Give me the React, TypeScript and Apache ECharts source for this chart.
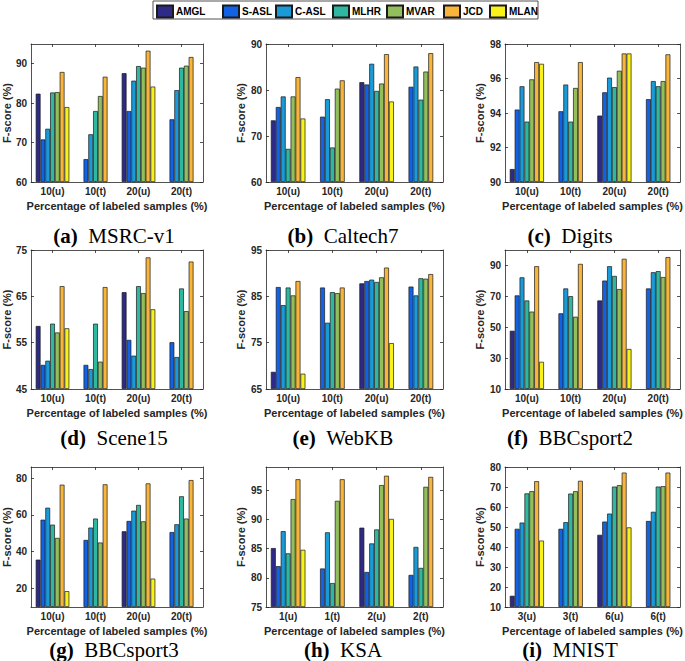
import React, { useEffect, useRef } from 'react';
import * as echarts from 'echarts';

const methods = ['AMGL', 'S-ASL', 'C-ASL', 'MLHR', 'MVAR', 'JCD', 'MLAN'];
const colors = ['#2E2A87', '#1262E6', '#1A9AD7', '#2FB8A0', '#92BF5C', '#F9B43A', '#F8F21A'];

const catsPct = ['10(u)', '10(t)', '20(u)', '20(t)'];
const catsKSA = ['1(u)', '1(t)', '2(u)', '2(t)'];
const catsMNIST = ['3(u)', '3(t)', '6(u)', '6(t)'];

// rows: AMGL, S-ASL, C-ASL, MLHR, MVAR, JCD, MLAN ; columns: the four categories
const msrcValues = [
  [82.4, null, 87.6, null],
  [70.8, 65.8, 78.0, 75.9],
  [73.5, 72.1, 85.7, 83.3],
  [82.7, 78.0, 89.4, 89.0],
  [82.8, 81.8, 89.0, 89.5],
  [87.9, 86.7, 93.3, 91.7],
  [79.0, null, 84.2, null],
];
const caltechValues = [
  [73.4, null, 81.7, null],
  [76.3, 74.2, 81.2, 80.7],
  [78.6, 78.0, 85.7, 85.1],
  [67.2, 67.5, 79.8, 77.9],
  [78.6, 80.3, 81.4, 84.0],
  [82.8, 82.1, 87.8, 88.0],
  [73.8, null, 77.5, null],
];
const digitsValues = [
  [90.75, null, 93.85, null],
  [94.2, 94.1, 95.2, 94.8],
  [95.55, 95.65, 96.05, 95.85],
  [93.5, 93.5, 95.5, 95.55],
  [95.95, 95.45, 96.45, 95.85],
  [96.95, 96.95, 97.45, 97.4],
  [96.85, null, 97.45, null],
];
const sceneValues = [
  [58.6, null, 65.9, null],
  [50.2, 50.2, 55.6, 55.1],
  [51.1, 49.3, 52.2, 51.9],
  [59.1, 59.1, 67.2, 66.7],
  [57.2, 50.9, 65.7, 61.8],
  [67.2, 67.0, 73.4, 72.5],
  [58.1, null, 62.2, null],
];
const webkbValues = [
  [68.7, null, 87.8, null],
  [87.0, 86.9, 88.3, 87.1],
  [83.1, 79.3, 88.6, 85.2],
  [86.9, 85.9, 88.1, 88.9],
  [85.2, 85.7, 89.1, 88.8],
  [88.3, 86.9, 91.2, 89.8],
  [68.3, null, 74.9, null],
];
const bbc2Values = [
  [47.7, null, 67.3, null],
  [70.6, 59.0, 80.2, 75.1],
  [82.3, 75.1, 89.5, 85.6],
  [67.3, 70.1, 83.2, 86.3],
  [60.1, 56.8, 74.7, 82.5],
  [89.5, 91.0, 94.3, 95.4],
  [27.6, null, 35.9, null],
];
const bbc3Values = [
  [35.7, null, 51.1, null],
  [57.4, 46.4, 56.7, 50.7],
  [63.9, 53.1, 62.3, 54.9],
  [54.7, 58.0, 65.4, 70.1],
  [47.5, 45.0, 56.5, 58.0],
  [76.4, 76.6, 77.1, 78.9],
  [18.6, null, 25.4, null],
];
const ksaValues = [
  [85.1, null, 88.6, null],
  [82.0, 81.6, 81.0, 80.5],
  [88.0, 87.8, 85.9, 85.3],
  [84.2, 79.1, 88.3, 81.7],
  [93.5, 93.2, 95.9, 95.6],
  [96.9, 96.9, 97.5, 97.3],
  [84.8, null, 90.1, null],
];
const mnistValues = [
  [15.6, null, 46.1, null],
  [49.1, 49.1, 52.7, 53.0],
  [52.2, 52.4, 56.7, 57.6],
  [66.8, 66.7, 70.2, 70.2],
  [67.9, 67.9, 70.9, 70.4],
  [72.9, 73.1, 77.2, 77.2],
  [43.2, null, 49.8, null],
];

const msrcTicks = [60, 70, 80, 90];
const caltechTicks = [60, 70, 80, 90];
const digitsTicks = [90, 92, 94, 96, 98];
const sceneTicks = [45, 55, 65, 75];
const webkbTicks = [65, 75, 85, 95];
const bbc2Ticks = [10, 30, 50, 70, 90];
const bbc3Ticks = [20, 40, 60, 80];
const ksaTicks = [75, 80, 85, 90, 95];
const mnistTicks = [10, 20, 30, 40, 50, 60, 70, 80];

const msrcRange = [60, 95];
const caltechRange = [60, 90];
const digitsRange = [90, 98];
const sceneRange = [45, 75];
const webkbRange = [65, 95];
const bbc2Range = [10, 100];
const bbc3Range = [10, 86];
const ksaRange = [75, 99];
const mnistRange = [10, 80];

const panels = [
  { key: 'a', title: 'MSRC-v1', cats: catsPct, values: msrcValues, ticks: msrcTicks, range: msrcRange },
  { key: 'b', title: 'Caltech7', cats: catsPct, values: caltechValues, ticks: caltechTicks, range: caltechRange },
  { key: 'c', title: 'Digits', cats: catsPct, values: digitsValues, ticks: digitsTicks, range: digitsRange },
  { key: 'd', title: 'Scene15', cats: catsPct, values: sceneValues, ticks: sceneTicks, range: sceneRange },
  { key: 'e', title: 'WebKB', cats: catsPct, values: webkbValues, ticks: webkbTicks, range: webkbRange },
  { key: 'f', title: 'BBCsport2', cats: catsPct, values: bbc2Values, ticks: bbc2Ticks, range: bbc2Range },
  { key: 'g', title: 'BBCsport3', cats: catsPct, values: bbc3Values, ticks: bbc3Ticks, range: bbc3Range },
  { key: 'h', title: 'KSA', cats: catsKSA, values: ksaValues, ticks: ksaTicks, range: ksaRange },
  { key: 'i', title: 'MNIST', cats: catsMNIST, values: mnistValues, ticks: mnistTicks, range: mnistRange },
];

const colLeft = [27, 266, 505];
const colWidth = [176, 177, 177];
const rowTop = [44, 250, 467];
const rowHeight = [138, 139, 140];
const captionX = [114, 343, 570];
const captionY = [236, 438, 650];
const legendX = [156, 222, 275, 332, 386, 443, 489];

const SANS = 'Liberation Sans, Arial, sans-serif';
const SERIF = 'Liberation Serif, Times New Roman, serif';
const INK = '#262626';

function buildOption() {
  const grid: any[] = [];
  const xAxis: any[] = [];
  const yAxis: any[] = [];
  const series: any[] = [];
  const graphic: any[] = [];

  const lineStyle = { color: INK, width: 0.8 };
  panels.forEach((p, i) => {
    const r = Math.floor(i / 3);
    const c = i % 3;
    grid.push({ left: colLeft[c], top: rowTop[r], width: colWidth[c], height: rowHeight[r], containLabel: false });
    const tickX = { show: true, inside: true, alignWithLabel: true, length: 3, lineStyle };
    xAxis.push({
      type: 'category', gridIndex: i, data: p.cats, position: 'bottom',
      axisLine: { show: true, lineStyle }, axisTick: tickX,
      axisLabel: { fontSize: 10, fontWeight: 'bold', color: INK, fontFamily: SANS, margin: 4 },
      name: 'Percentage of labeled samples (%)', nameLocation: 'middle', nameGap: 18,
      nameTextStyle: { fontSize: 11, fontWeight: 'bold', color: INK, fontFamily: SANS },
    });
    xAxis.push({
      type: 'category', gridIndex: i, data: p.cats, position: 'top',
      axisLine: { show: true, lineStyle }, axisTick: tickX, axisLabel: { show: false },
    });
    yAxis.push({
      type: 'value', gridIndex: i, min: p.range[0], max: p.range[1], position: 'left',
      startValue: p.range[0],
      axisLine: { show: true, lineStyle },
      axisTick: { show: true, inside: true, length: 3, lineStyle, customValues: p.ticks },
      axisLabel: { customValues: p.ticks, fontSize: 10, fontWeight: 'bold', color: INK, fontFamily: SANS, margin: 4 },
      splitLine: { show: false },
      name: 'F-score (%)', nameLocation: 'middle', nameGap: 14,
      nameTextStyle: { fontSize: 11, fontWeight: 'bold', color: INK, fontFamily: SANS },
    });
    yAxis.push({
      type: 'value', gridIndex: i, min: p.range[0], max: p.range[1], position: 'right',
      axisLine: { show: true, lineStyle },
      axisTick: { show: true, inside: true, length: 3, lineStyle, customValues: p.ticks },
      axisLabel: { show: false }, splitLine: { show: false },
    });
    methods.forEach((m, k) => {
      series.push({
        type: 'bar', name: m, xAxisIndex: 2 * i, yAxisIndex: 2 * i,
        data: p.values[k], barGap: '0%', barCategoryGap: '22%',
        itemStyle: { color: colors[k], borderColor: '#1a1a1a', borderWidth: 0.7 },
        emphasis: { disabled: true },
      });
    });
    graphic.push({
      type: 'text', x: captionX[c], y: captionY[r],
      style: {
        text: `{b|(${p.key})}  ${p.title}`,
        rich: { b: { fontWeight: 'bold', fontFamily: SERIF, fontSize: 21, fill: '#000' } },
        fontFamily: SERIF, fontSize: 21, fill: '#000', align: 'center', verticalAlign: 'middle',
      },
    });
  });

  graphic.push({
    type: 'rect', z: -10, shape: { x: 153, y: 1, width: 385, height: 18 },
    style: { fill: '#fff', stroke: INK, lineWidth: 0.8 },
  });

  const legend = methods.map((m, k) => ({
    data: [m], left: legendX[k], top: 4.5, itemWidth: 16, itemHeight: 12, itemGap: 0, padding: 0,
    icon: 'rect', selectedMode: false,
    textStyle: { fontSize: 10, fontWeight: 'bold', fontFamily: SANS, color: '#000', padding: [0, 0, 0, -2] },
  }));

  return { animation: false, backgroundColor: '#fff', grid, xAxis, yAxis, series, legend, graphic };
}

export default function App() {
  const ref = useRef<HTMLDivElement>(null);
  useEffect(() => {
    if (!ref.current) return;
    const chart = echarts.init(ref.current, undefined, { renderer: 'svg' });
    chart.setOption(buildOption() as any);
    return () => chart.dispose();
  }, []);
  return <div ref={ref} style={{ position: 'absolute', left: 0, top: 0, width: 685, height: 661 }} />;
}
